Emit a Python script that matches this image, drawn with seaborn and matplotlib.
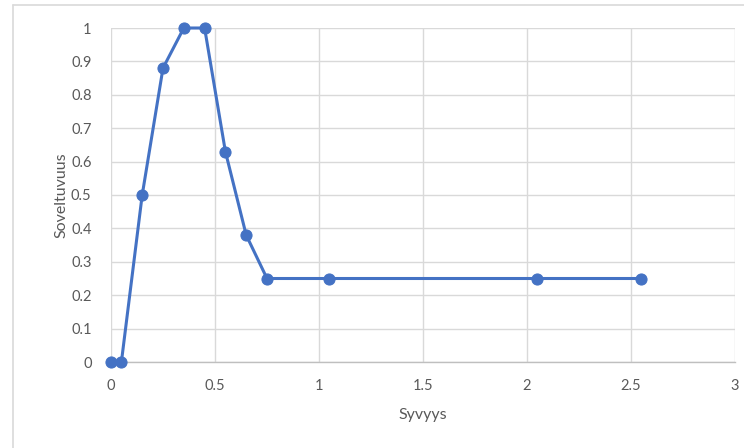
import pandas as pd
import seaborn as sns
import matplotlib.pyplot as plt
from matplotlib.lines import Line2D

# Data
syvyys = [0, 0.05, 0.15, 0.25, 0.35, 0.45, 0.55, 0.65, 0.75, 1.05, 2.05, 2.55]
soveltuvuus = [0, 0, 0.5, 0.88, 1, 1, 0.63, 0.38, 0.25, 0.25, 0.25, 0.25]
x_ticks = [0, 0.5, 1, 1.5, 2, 2.5, 3]
y_ticks = [round(i * 0.1, 1) for i in range(11)]

df = pd.DataFrame({"Syvyys": syvyys, "Soveltuvuus": soveltuvuus})

sns.set_style("white")
plt.rcParams['font.family'] = ['Lato', 'DejaVu Sans']

fig = plt.figure(figsize=(7.44, 4.48), dpi=100)
W, H = 744, 448
ax = fig.add_axes([111 / W, (H - 362) / H, (735 - 111) / W, (362 - 28) / H])

blue = "#4472C4"
sns.lineplot(data=df, x="Syvyys", y="Soveltuvuus", ax=ax, color=blue,
             linewidth=2.2, marker="o", markersize=8, markeredgecolor=blue,
             sort=False, estimator=None, clip_on=False, zorder=3)

ax.set_xlim(0, 3)
ax.set_ylim(0, 1)
ax.set_xticks(x_ticks)
ax.set_xticklabels([f"{t:g}" for t in x_ticks])
ax.set_yticks(y_ticks)
ax.set_yticklabels([f"{t:g}" for t in y_ticks])
ax.grid(True, color="#D9D9D9", linewidth=1)
ax.set_axisbelow(True)

for side in ["top", "right", "left"]:
    ax.spines[side].set_visible(False)
ax.spines["bottom"].set_color("#BFBFBF")
ax.spines["bottom"].set_linewidth(1)

ax.tick_params(axis="both", length=0, labelsize=10.5, labelcolor="#595959")
ax.tick_params(axis="x", pad=12)
ax.tick_params(axis="y", pad=14)

ax.set_xlabel("Syvyys", fontsize=11.5, color="#595959", labelpad=11)
ax.set_ylabel("Soveltuvuus", fontsize=11.5, color="#595959", labelpad=2)

# outer chart frame (partially visible)
fig.add_artist(Line2D([13 / W, 1], [1 - 5 / H, 1 - 5 / H], color="#D9D9D9", linewidth=1.2))
fig.add_artist(Line2D([13 / W, 13 / W], [0, 1 - 5 / H], color="#D9D9D9", linewidth=1.2))

fig.savefig("out.png", dpi=100)
